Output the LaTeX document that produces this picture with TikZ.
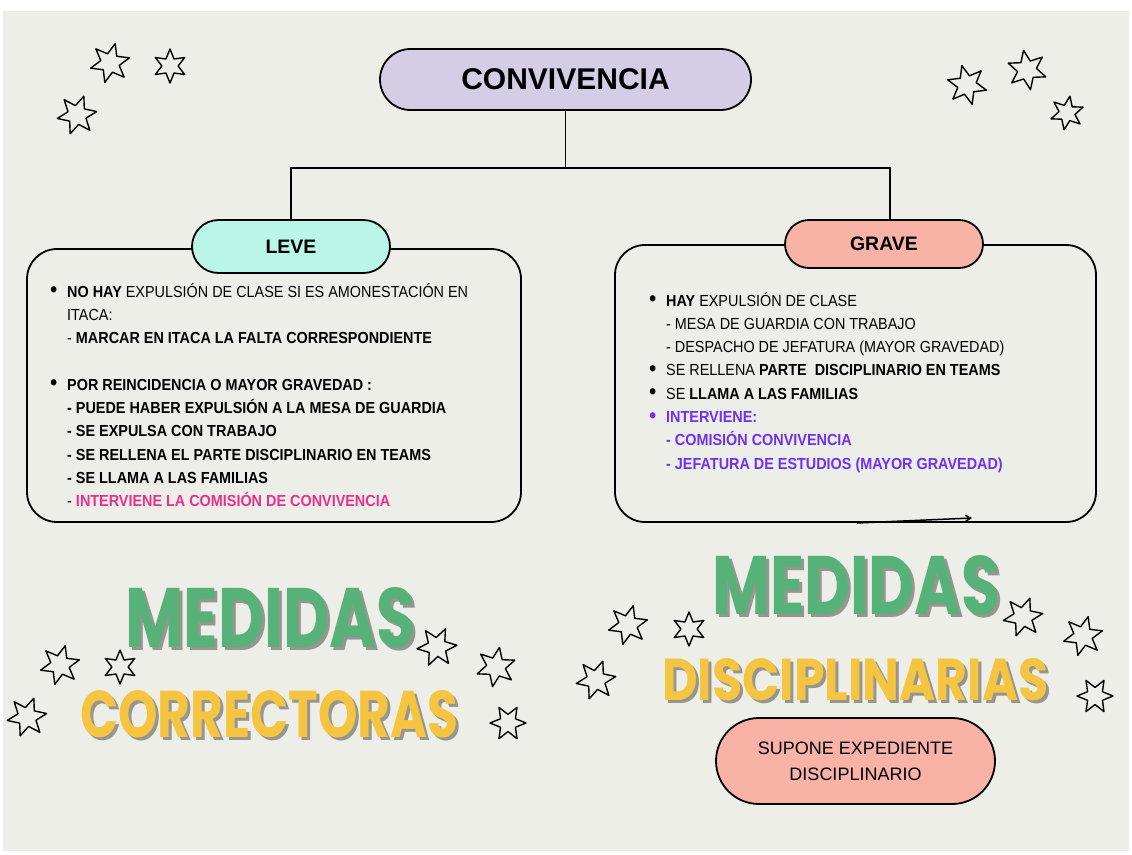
\documentclass[tikz,border=0pt]{standalone}
\usepackage{fontspec}
\usepackage{graphicx}
\usetikzlibrary{shapes.geometric,shapes.misc,arrows.meta}
\setmainfont{Liberation Sans}
\newfontfamily\bodyfont{Liberation Sans}[FakeStretch=0.9]
\newfontfamily\titlefont{Poppins}
\definecolor{bg}{HTML}{EEEEE9}
\definecolor{convfill}{HTML}{D5CCE6}
\definecolor{levefill}{HTML}{B9F6E7}
\definecolor{gravefill}{HTML}{F8B3A6}
\definecolor{pinkc}{HTML}{E6328C}
\definecolor{purpc}{HTML}{7030F0}
\definecolor{greenc}{HTML}{56B278}
\definecolor{yellowc}{HTML}{F5C542}
\definecolor{shadowc}{HTML}{96968F}
\newcommand\bl{\makebox[17pt][l]{\raisebox{-0.5pt}{\scalebox{1.45}{\textbullet}}}}
\newcommand\ind{\hspace*{17pt}}
\newcommand\bigword[7]{%
  \node[inner sep=0, anchor=north west] (#1) at (#2,#3) {%
    \makebox[0pt][l]{\hspace*{3pt}\raisebox{-3.5pt}{\color{shadowc}\resizebox{#4pt}{#5pt}{\titlefont\bfseries #7}}}%
    {\color{#6}\resizebox{#4pt}{#5pt}{\titlefont\bfseries #7}}};}
\tikzset{
  pill/.style={rounded rectangle, draw=black, line width=1.8pt, inner sep=0},
  bigbox/.style={rectangle, rounded corners=30pt, draw=black, line width=1.8pt, inner sep=0},
  starnode/.style={star, star points=6, star point ratio=2.1, draw=black, line width=1.4pt, inner sep=0, minimum size=40pt, line join=round},
  conn/.style={line width=1.6pt},
  txt/.style={anchor=base west, inner sep=0}
}
\begin{document}
\begin{tikzpicture}[x=1pt,y=-1pt]
\useasboundingbox (0,0) rectangle (1132,854);
\fill[white] (0,0) rectangle (1132,854);
\fill[bg] (3,11) rectangle (1129,851);

% big boxes
\node[bigbox, minimum width=494pt, minimum height=273pt] (lbox) at (274,385.5) {};
\node[bigbox, minimum width=481pt, minimum height=277pt] (rbox) at (855.5,383.5) {};

% header pills
\node[pill, fill=convfill, minimum width=371pt, minimum height=61pt, font=\fontsize{30}{36}\selectfont\bfseries] (conv) at (565.5,79.5) {CONVIVENCIA};
\node[pill, fill=levefill, minimum width=198pt, minimum height=53pt, font=\fontsize{19.5}{24}\selectfont\bfseries] (leve) at (291,246.5) {LEVE};
\node[pill, fill=gravefill, minimum width=198pt, minimum height=48pt, font=\fontsize{19.5}{24}\selectfont\bfseries] (grave) at (884,244) {GRAVE};

% connectors
\coordinate (jr) at (890,168);
\draw[conn] (conv.south) -- (conv.south |- jr);
\draw[conn] (leve.north) |- (jr) -- (jr |- grave.north);

% small arrow at bottom of right box
\coordinate (a1) at (857,523);
\coordinate (a2) at (972,518);
\draw[line width=1.5pt, -{Straight Barb[length=5pt,width=6pt]}] (a1) -- (a2);

% left text
\node[txt] (ltext) at (50,297) {\parbox[t]{465pt}{\bodyfont\fontsize{16}{23.3}\selectfont
\bl\textbf{NO HAY} EXPULSIÓN DE CLASE SI ES AMONESTACIÓN EN\\
\ind ITACA:\\
\ind - \textbf{MARCAR EN ITACA LA FALTA CORRESPONDIENTE}\\[23.3pt]
\bl\textbf{POR REINCIDENCIA O MAYOR GRAVEDAD :}\\
\ind\textbf{- PUEDE HABER EXPULSIÓN A LA MESA DE GUARDIA}\\
\ind\textbf{- SE EXPULSA CON TRABAJO}\\
\ind\textbf{- SE RELLENA EL PARTE DISCIPLINARIO EN TEAMS}\\
\ind\textbf{- SE LLAMA A LAS FAMILIAS}\\
\ind - \textbf{\color{pinkc}INTERVIENE LA COMISIÓN DE CONVIVENCIA}}};

% right text
\node[txt] (rtext) at (649,306) {\parbox[t]{440pt}{\bodyfont\fontsize{16}{23.3}\selectfont
\bl\textbf{HAY} EXPULSIÓN DE CLASE\\
\ind - MESA DE GUARDIA CON TRABAJO\\
\ind - DESPACHO DE JEFATURA (MAYOR GRAVEDAD)\\
\bl SE RELLENA \textbf{PARTE\ \ DISCIPLINARIO EN TEAMS}\\
\bl SE \textbf{LLAMA A LAS FAMILIAS}\\
{\color{purpc}\bl\textbf{INTERVIENE:}}\\
{\color{purpc}\ind\textbf{- COMISIÓN CONVIVENCIA}}\\
{\color{purpc}\ind\textbf{- JEFATURA DE ESTUDIOS (MAYOR GRAVEDAD)}}}};

% expediente
\node[pill, fill=gravefill, minimum width=279pt, minimum height=86pt, align=center, font=\fontsize{18}{26}\selectfont] (exp) at (855.5,761) {SUPONE EXPEDIENTE\\DISCIPLINARIO};

% big titles
\bigword{tlm}{125}{587}{290}{60}{greenc}{MEDIDAS}
\bigword{tlc}{80}{690}{378}{47}{yellowc}{CORRECTORAS}
\bigword{trm}{712}{555}{288}{59}{greenc}{MEDIDAS}
\bigword{trd}{662}{658}{386}{42}{yellowc}{DISCIPLINARIAS}

% stars
\node[starnode, rotate=-15] (s1) at (110,63) {};
\node[starnode, minimum size=34pt, rotate=0] (s2) at (170,66) {};
\node[starnode, rotate=-20] (s3) at (77,115) {};
\node[starnode, rotate=15] (s4) at (967,85) {};
\node[starnode, rotate=10] (s5) at (1027,70) {};
\node[starnode, minimum size=34pt, rotate=-10] (s6) at (1067,113) {};
\node[starnode, rotate=-15] (s7) at (60,665) {};
\node[starnode, minimum size=34pt, rotate=0] (s8) at (120,667) {};
\node[starnode, rotate=-20] (s9) at (27,717) {};
\node[starnode, rotate=-25] (s10) at (437,647) {};
\node[starnode, rotate=-10] (s11) at (496,667) {};
\node[starnode, minimum size=36pt, rotate=-30] (s12) at (508,723) {};
\node[starnode, rotate=-15] (s13) at (628,625) {};
\node[starnode, minimum size=34pt, rotate=0] (s14) at (689,629) {};
\node[starnode, rotate=-20] (s15) at (596,680) {};
\node[starnode, rotate=-20] (s16) at (1023,617) {};
\node[starnode, rotate=-15] (s17) at (1083,636) {};
\node[starnode, minimum size=36pt, rotate=-30] (s18) at (1095,696) {};
\end{tikzpicture}
\end{document}
